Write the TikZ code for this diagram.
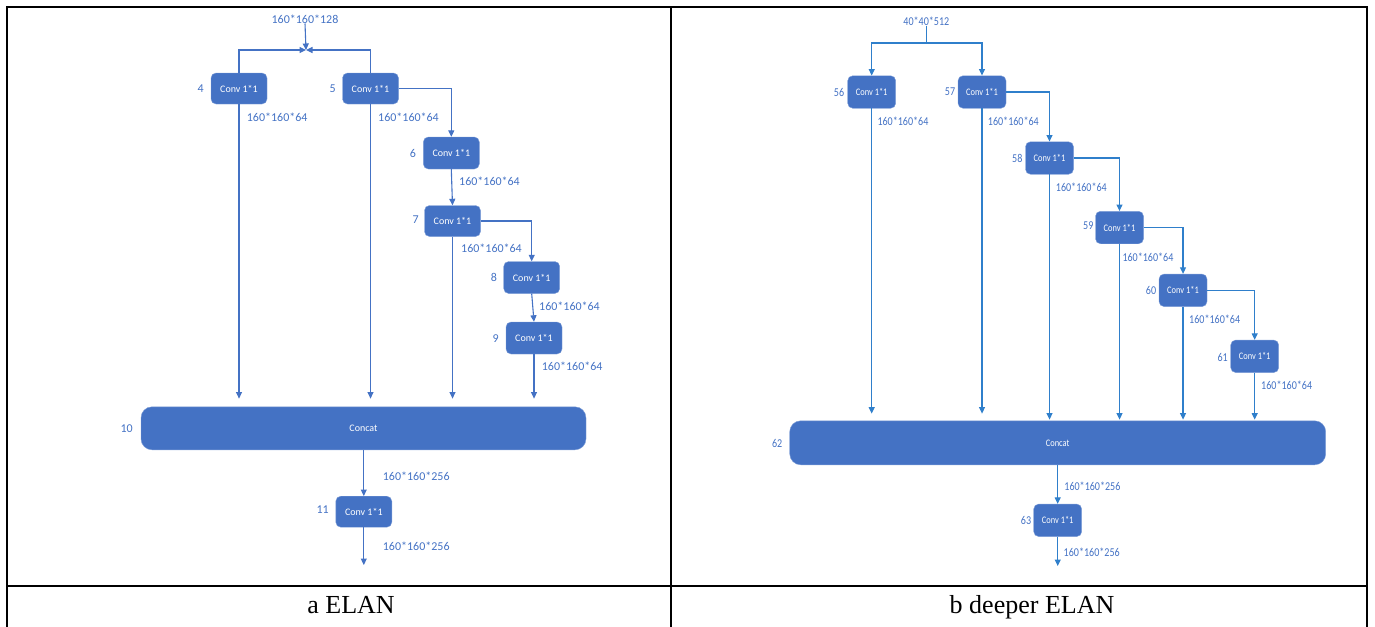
\documentclass[tikz,border=0pt]{standalone}
\usepackage{fontspec}
\setmainfont{Liberation Serif}
\newfontfamily\calib{Carlito}
\newfontfamily\calibn[FakeStretch=0.84]{Carlito}
\usetikzlibrary{arrows.meta}
\definecolor{boxblue}{HTML}{4472C4}
\definecolor{lineblue}{HTML}{4472C4}
\definecolor{rlineblue}{HTML}{2F7FCB}
\tikzset{
  conv/.style={fill=boxblue, draw=boxblue!70!white, line width=0.4pt, rounded corners=5pt,
    text=white, inner sep=0pt, minimum width=56pt, minimum height=31pt, font=\calib\fontsize{10}{12}\selectfont},
  rconv/.style={conv, minimum width=48pt, minimum height=32.5pt, font=\calibn\fontsize{10}{12}\selectfont},
  catbox/.style={conv, rounded corners=11pt},
  dim/.style={text=boxblue, inner sep=0pt, anchor=west, font=\calib\fontsize{12}{14}\selectfont},
  rdim/.style={dim, font=\calibn\fontsize{12}{14}\selectfont},
  idx/.style={text=boxblue, inner sep=0pt, font=\calib\fontsize{12}{14}\selectfont},
  ridx/.style={idx, font=\calibn\fontsize{12}{14}\selectfont},
  arr/.style={draw=lineblue, line width=1.1pt, -{Triangle[length=6.5pt,width=6pt]}},
  ln/.style={draw=lineblue, line width=1.1pt},
  rarr/.style={arr, draw=rlineblue},
  rln/.style={ln, draw=rlineblue},
  caption/.style={inner sep=0pt, anchor=base, font=\fontsize{26}{30}\selectfont},
  rule/.style={line width=2pt, black}
}
\begin{document}
\begin{tikzpicture}[x=1pt, y=-1pt]
\useasboundingbox (0,0) rectangle (1375,626);

% table frame
\draw[rule] (7,630) -- (7,7) -- (1367,7) -- (1367,630);
\draw[rule] (671,7) -- (671,630);
\draw[rule] (7,586) -- (1367,586);
\node[caption] (capa) at (351,613.5) {a ELAN};
\node[caption] (capb) at (1032,613.5) {b deeper ELAN};

% ---------- (a) ELAN ----------
\node[dim, anchor=center] (ina) at (305,19) {160*160*128};
\coordinate (join) at (306,50);

\node[conv] (b4) at (239,88.5) {Conv 1*1};
\node[conv] (b5) at (370.5,88.5) {Conv 1*1};
\node[conv, minimum height=32pt] (b6) at (451.3,153) {Conv 1*1};
\node[conv] (b7) at (452.5,221) {Conv 1*1};
\node[conv, minimum height=32pt] (b8) at (531.7,277.5) {Conv 1*1};
\node[conv, minimum height=32pt] (b9) at (534,338) {Conv 1*1};
\node[catbox, minimum width=445pt, minimum height=43pt] (c10) at (363.5,428.3) {Concat};
\node[conv] (b11) at (363.8,511.7) {Conv 1*1};
\coordinate (outa) at (363.8,565);

\node[idx] (n4) at (200.7,89) {4};
\node[idx] (n5) at (332.7,89) {5};
\node[idx] (n6) at (413,153) {6};
\node[idx] (n7) at (415.7,220) {7};
\node[idx] (n8) at (494,277) {8};
\node[idx] (n9) at (495.7,339) {9};
\node[idx] (n10) at (126.7,428.3) {10};
\node[idx] (n11) at (322.7,510) {11};

\node[dim] (d4) at (246.7,117) {160*160*64};
\node[dim] (d5) at (378,117) {160*160*64};
\node[dim] (d6) at (459,181) {160*160*64};
\node[dim] (d7) at (461,248) {160*160*64};
\node[dim] (d8) at (539,306) {160*160*64};
\node[dim] (d9) at (541.7,366) {160*160*64};
\node[dim] (d10) at (382.7,476) {160*160*256};
\node[dim] (d11) at (382.7,546) {160*160*256};

\draw[arr] (ina.south) -- (join);
\draw[arr] (b4.north) |- (join);
\draw[arr] (b5.north) |- (join);
\draw[arr] (b5.east) -| (b6.north);
\draw[arr] (b6.south) -- (b7.north);
\draw[arr] (b7.east) -| (b8.north);
\draw[arr] (b8.south) -- (b9.north);
\draw[arr, shorten >=8pt] (b4.south) -- (b4.south |- c10.north);
\draw[arr, shorten >=8pt] (b5.south) -- (b5.south |- c10.north);
\draw[arr, shorten >=8pt] (b7.south) -- (b7.south |- c10.north);
\draw[arr, shorten >=8pt] (b9.south) -- (b9.south |- c10.north);
\draw[arr] (c10.south -| b11.north) -- (b11.north);
\draw[arr] (b11.south) -- (outa);

% ---------- (b) deeper ELAN ----------
\node[rdim, anchor=center] (inb) at (926.3,21) {40*40*512};
\coordinate (split) at (926.3,43);

\node[rconv] (b56) at (871.7,92) {Conv 1*1};
\node[rconv] (b57) at (982,92) {Conv 1*1};
\node[rconv] (b58) at (1049.5,158) {Conv 1*1};
\node[rconv] (b59) at (1119.5,227.5) {Conv 1*1};
\node[rconv] (b60) at (1183,290.3) {Conv 1*1};
\node[rconv] (b61) at (1254.7,356.3) {Conv 1*1};
\node[catbox, font=\calibn\fontsize{10}{12}\selectfont, minimum width=536pt, minimum height=44pt] (c62) at (1057.7,442.8) {Concat};
\node[rconv] (b63) at (1057.7,520.3) {Conv 1*1};
\coordinate (outb) at (1057.7,566);

\node[ridx] (n56) at (839,92) {56};
\node[ridx] (n57) at (950,92) {57};
\node[ridx] (n58) at (1017.3,158) {58};
\node[ridx] (n59) at (1088.3,226) {59};
\node[ridx] (n60) at (1151,290) {60};
\node[ridx] (n61) at (1222.7,357) {61};
\node[ridx] (n62) at (777.2,443) {62};
\node[ridx] (n63) at (1026,520) {63};

\node[rdim] (d56) at (877.3,121) {160*160*64};
\node[rdim] (d57) at (987.7,121) {160*160*64};
\node[rdim] (d58) at (1055.7,187) {160*160*64};
\node[rdim] (d59) at (1122.3,257) {160*160*64};
\node[rdim] (d60) at (1189,319) {160*160*64};
\node[rdim] (d61) at (1261,385) {160*160*64};
\node[rdim] (d62) at (1064.2,486) {160*160*256};
\node[rdim] (d63) at (1063.5,552) {160*160*256};

\draw[rln] (inb.south) -- (split);
\draw[rarr] (split) -| (b56.north);
\draw[rarr] (split) -| (b57.north);
\draw[rarr] (b57.east) -| (b58.north);
\draw[rarr] (b58.east) -| (b59.north);
\draw[rarr] (b59.east) -| (b60.north);
\draw[rarr] (b60.east) -| (b61.north);
\draw[rarr, shorten >=7pt] (b56.south) -- (b56.south |- c62.north);
\draw[rarr, shorten >=7pt] (b57.south) -- (b57.south |- c62.north);
\draw[rarr, shorten >=1pt] (b58.south) -- (b58.south |- c62.north);
\draw[rarr, shorten >=1pt] (b59.south) -- (b59.south |- c62.north);
\draw[rarr, shorten >=1pt] (b60.south) -- (b60.south |- c62.north);
\draw[rarr, shorten >=1pt] (b61.south) -- (b61.south |- c62.north);
\draw[rarr] (c62.south -| b63.north) -- (b63.north);
\draw[rarr] (b63.south) -- (outb);
\end{tikzpicture}
\end{document}
